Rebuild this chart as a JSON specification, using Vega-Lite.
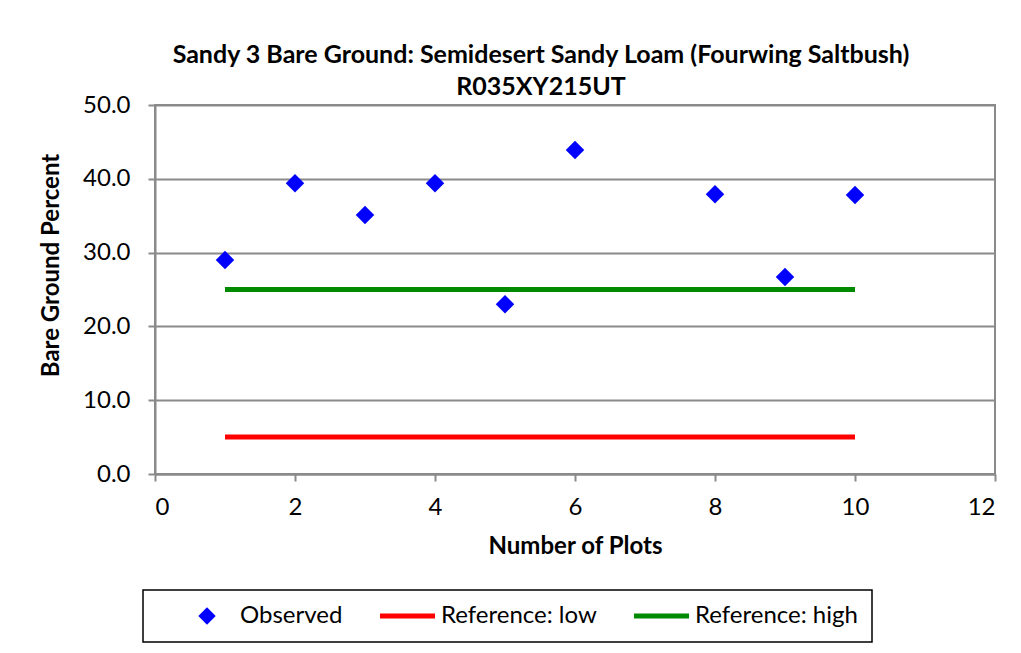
{
  "$schema": "https://vega.github.io/schema/vega-lite/v6.json",
  "width": 840,
  "height": 369,
  "autosize": {"type": "none"},
  "padding": {"left": 155, "top": 105, "right": 26, "bottom": 179},
  "background": "white",
  "title": {
    "text": ["Sandy 3 Bare Ground: Semidesert Sandy Loam (Fourwing Saltbush)", "R035XY215UT"],
    "font": "Lato",
    "fontSize": 25,
    "fontWeight": "bold",
    "color": "#000000",
    "anchor": "middle",
    "dx": -34,
    "offset": -7,
    "lineHeight": 32
  },
  "data": {
    "values": [
      {"plot": 1, "value": 29.0, "series": "Observed"},
      {"plot": 2, "value": 39.4, "series": "Observed"},
      {"plot": 3, "value": 35.1, "series": "Observed"},
      {"plot": 4, "value": 39.4, "series": "Observed"},
      {"plot": 5, "value": 23.0, "series": "Observed"},
      {"plot": 6, "value": 43.9, "series": "Observed"},
      {"plot": 8, "value": 37.9, "series": "Observed"},
      {"plot": 9, "value": 26.7, "series": "Observed"},
      {"plot": 10, "value": 37.8, "series": "Observed"},
      {"plot": 1, "value": 5, "series": "Reference: low"},
      {"plot": 10, "value": 5, "series": "Reference: low"},
      {"plot": 1, "value": 25, "series": "Reference: high"},
      {"plot": 10, "value": 25, "series": "Reference: high"}
    ]
  },
  "encoding": {
    "x": {
      "field": "plot",
      "type": "quantitative",
      "title": "Number of Plots",
      "scale": {"domain": [0, 12], "nice": false, "zero": false},
      "axis": {"values": [0, 2, 4, 6, 8, 10, 12], "grid": false, "format": "d"}
    },
    "y": {
      "field": "value",
      "type": "quantitative",
      "title": "Bare Ground Percent",
      "scale": {"domain": [0, 50], "nice": false},
      "axis": {"values": [0, 10, 20, 30, 40, 50], "grid": true, "format": ".1f", "titleY": 160}
    },
    "color": {
      "field": "series",
      "type": "nominal",
      "scale": {
        "domain": ["Observed", "Reference: low", "Reference: high"],
        "range": ["#0000FF", "#FF0000", "#008A00"]
      },
      "legend": {
        "title": null,
        "orient": "none",
        "direction": "horizontal",
        "legendX": -12,
        "legendY": 485,
        "labelLimit": 400,
        "encode": {
          "symbols": {
            "update": {
              "x": {"signal": "datum.value === 'Observed' ? 50 : 27.5"},
              "shape": {"signal": "datum.value === 'Observed' ? 'diamond' : 'stroke'"},
              "size": {"signal": "datum.value === 'Observed' ? 300 : 3025"},
              "fill": {"scale": "color", "field": "value"},
              "stroke": {"scale": "color", "field": "value"},
              "strokeWidth": {"signal": "datum.value === 'Observed' ? 0 : 5"},
              "opacity": {"value": 1}
            }
          },
          "labels": {
            "update": {
              "x": {"signal": "datum.value === 'Observed' ? 83 : 61"}
            }
          }
        }
      }
    }
  },
  "layer": [
    {
      "transform": [{"filter": "datum.series !== 'Observed'"}],
      "mark": {"type": "line", "strokeWidth": 5, "strokeCap": "butt"}
    },
    {
      "transform": [{"filter": "datum.series === 'Observed'"}],
      "mark": {"type": "point", "shape": "diamond", "filled": true, "size": 340, "opacity": 1}
    }
  ],
  "config": {
    "font": "Lato",
    "view": {"stroke": "#8a8a8a", "strokeWidth": 2},
    "axis": {
      "labelFont": "Lato",
      "labelFontSize": 24,
      "labelColor": "#000000",
      "titleFont": "Lato",
      "titleFontSize": 24,
      "titleFontWeight": "bold",
      "titleColor": "#000000",
      "domainColor": "#8a8a8a",
      "domainWidth": 2,
      "tickColor": "#8a8a8a",
      "tickWidth": 2,
      "tickSize": 7,
      "gridColor": "#8a8a8a",
      "gridWidth": 2
    },
    "axisY": {"labelPadding": 18, "titlePadding": 19},
    "axisX": {"labelPadding": 14, "titlePadding": 15},
    "legend": {
      "labelFont": "Lato",
      "labelFontSize": 24,
      "labelColor": "#000000",
      "columnPadding": 27,
      "strokeColor": "#000000",
      "strokeWidth": 1.5,
      "padding": 14
    }
  }
}
